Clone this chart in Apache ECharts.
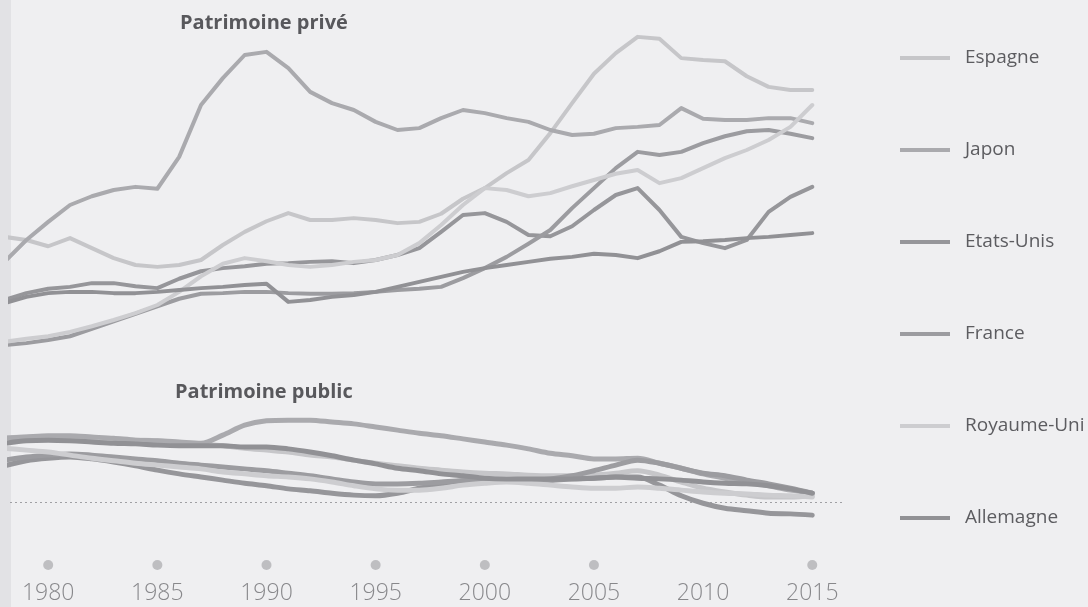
<!DOCTYPE html>
<html><head><meta charset="utf-8">
<script src="https://cdn.jsdelivr.net/npm/echarts@6/dist/echarts.min.js"></script>
<style>html,body{margin:0;padding:0;background:#efeff1}#c{width:1088px;height:607px}</style>
</head><body><div id="c"></div>
<script>
const years = [1978,1979,1980,1981,1982,1983,1984,1985,1986,1987,1988,1989,1990,1991,1992,1993,1994,1995,1996,1997,1998,1999,2000,2001,2002,2003,2004,2005,2006,2007,2008,2009,2010,2011,2012,2013,2014,2015];
const countries = ['Espagne','Japon','Etats-Unis','France','Royaume-Uni','Allemagne'];

// Patrimoine privé (% du revenu national, estimated)
const privEspagne = [465,460,450,463,447,431,420,417,420,428,452,473,490,503,492,492,495,492,487,489,502,526,543,567,588,631,679,726,759,785,782,751,748,746,722,705,700,700];
const privJapon = [425,460,489,516,530,540,545,542,593,676,719,756,761,735,697,679,668,649,636,639,655,668,663,655,649,636,628,630,639,641,644,671,654,652,652,655,655,647];
const privEtatsUnis = [364,375,382,385,391,391,386,383,398,410,415,418,422,423,425,426,423,428,436,447,473,500,503,489,468,466,482,508,532,543,508,465,455,447,460,505,529,545];
const privFrance = [292,295,300,306,318,330,342,354,366,374,375,377,377,375,374,374,375,377,380,382,385,399,415,433,454,476,511,543,575,601,596,601,615,626,634,636,630,623];
const privRoyaumeUni = [297,302,306,313,322,332,343,356,377,402,422,431,426,420,417,420,425,428,436,455,484,516,543,540,530,535,546,556,566,572,551,559,575,591,604,620,641,676];
const privAllemagne = [359,369,375,377,377,375,375,377,380,383,385,388,390,361,364,369,372,377,385,393,401,409,415,420,425,430,433,438,436,431,442,457,458,460,463,465,468,471];

// Patrimoine public (% du revenu national, estimated)
const pubEspagne = [102,104,104,104,102,101,99,98,94,93,90,86,83,80,75,72,67,62,58,54,51,48,46,45,43,42,42,43,46,50,43,32,22,16,11,8,8,10];
const pubJapon = [102,104,106,106,104,102,99,98,96,94,107,123,130,131,131,128,125,120,115,110,106,101,96,91,85,78,74,69,69,70,62,54,45,38,32,26,19,14];
const pubEtatsUnis = [58,66,70,72,69,64,58,51,45,40,35,30,26,21,18,14,11,10,14,22,29,34,35,35,35,35,37,38,40,40,27,10,-2,-10,-14,-18,-19,-21];
const pubFrance = [67,72,75,77,75,72,69,66,62,59,56,53,50,46,42,37,32,29,29,30,32,34,35,35,35,37,42,50,59,67,62,54,46,42,35,29,22,14];
const pubRoyaumeUni = [86,83,80,75,70,66,62,59,56,53,48,45,42,40,37,32,26,21,19,19,22,27,30,32,30,27,24,22,22,24,22,19,16,14,13,11,10,8];
const pubAllemagne = [94,98,99,98,96,94,93,91,90,90,90,88,88,85,80,74,67,61,54,50,45,42,38,37,37,37,37,38,40,38,37,35,32,30,29,26,21,14];

const tickYears = [1980,1985,1990,1995,2000,2005,2010,2015];
const dotYears = [1980,1985,1990,1995,2000,2005,2015];

const privSets = [privEspagne, privJapon, privEtatsUnis, privFrance, privRoyaumeUni, privAllemagne];
const pubSets = [pubEspagne, pubJapon, pubEtatsUnis, pubFrance, pubRoyaumeUni, pubAllemagne];
const colors = ['#c6c6c9','#aaaaae','#96969a','#9c9ca0','#cdcdd0','#919195'];

const chart = echarts.init(document.getElementById('c'), null, {renderer:'canvas'});
const xBase = {type:'value', min:1978.25, max:2016.5, show:false};
const series = [];
countries.forEach((c,i)=>{
  series.push({type:'line', name:c, xAxisIndex:0, yAxisIndex:0, showSymbol:false, clip:true,
    data: years.map((y,j)=>[y, privSets[i][j]]), color: colors[i],
    lineStyle:{width:4, color:colors[i], cap:'round', join:'round'}});
});
countries.forEach((c,i)=>{
  const s = {type:'line', name:c, xAxisIndex:1, yAxisIndex:1, showSymbol:false, clip:true, smooth:0.3,
    data: years.map((y,j)=>[y, pubSets[i][j]]), color: colors[i],
    lineStyle:{width:5, color:colors[i], cap:'round', join:'round'}};
  if (i===0) s.markLine = {silent:true, symbol:['none','none'], label:{show:false},
    lineStyle:{type:[2,3], color:'#a0a0a4', width:1}, data:[{yAxis:0}], z:1};
  series.push(s);
});
series.push({type:'scatter', xAxisIndex:2, yAxisIndex:2, symbolSize:10,
  data: tickYears.map(y=>[y,0.5]),
  itemStyle:{color: p => dotYears.includes(p.value[0]) ? '#b2b2b5' : 'rgba(0,0,0,0)'},
  label:{show:true, position:'bottom', distance:12, formatter: p => String(p.value[0]),
    fontSize:23, color:'#6e6e72', fontFamily:'Open Sans', fontWeight:300}});

chart.setOption({
  animation:false,
  backgroundColor:'#efeff1',
  title:[
    {text:'Patrimoine privé', left:175, top:8, textStyle:{fontSize:20, fontWeight:'bold', color:'#58585c', fontFamily:'Open Sans'}},
    {text:'Patrimoine public', left:170, top:377, textStyle:{fontSize:20, fontWeight:'bold', color:'#58585c', fontFamily:'Open Sans'}}
  ],
  legend:{data:countries, orient:'vertical', left:895, top:43, itemWidth:50, itemHeight:4, itemGap:72,
    icon:'rect', selectedMode:false,
    textStyle:{fontSize:19, color:'#5c5c60', fontFamily:'Open Sans', lineHeight:20, padding:[0,0,0,10]}},
  grid:[
    {left:10, right:243, top:15, height:356.25},
    {left:10, right:243, top:402, height:125},
    {left:10, right:243, top:560, height:10}
  ],
  xAxis:[Object.assign({gridIndex:0},xBase), Object.assign({gridIndex:1},xBase), Object.assign({gridIndex:2},xBase)],
  yAxis:[
    {gridIndex:0, type:'value', min:250, max:820, show:false},
    {gridIndex:1, type:'value', min:-40, max:160, show:false},
    {gridIndex:2, type:'value', min:0, max:1, show:false}
  ],
  graphic:[{type:'rect', left:0, top:0, shape:{width:11, height:607}, style:{fill:'#e2e2e5'}, silent:true, z:-1}],
  series: series
});
</script></body></html>
